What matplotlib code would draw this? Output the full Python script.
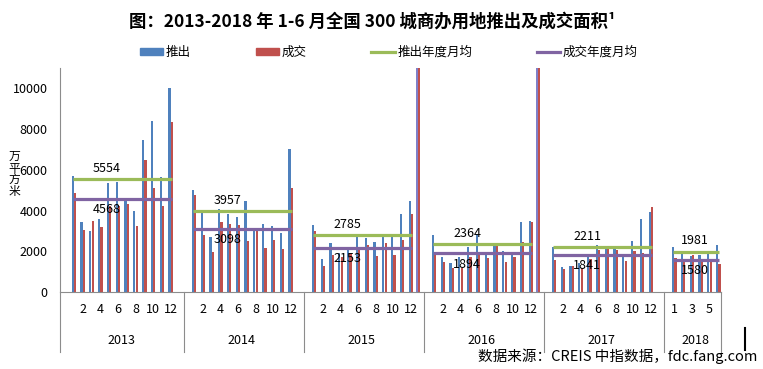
import numpy as np
import matplotlib.pyplot as plt
import matplotlib.transforms as mtransforms
from matplotlib.lines import Line2D
from matplotlib.patches import Patch

plt.rcParams['font.family'] = ['Noto Sans CJK SC', 'DejaVu Sans']

years = ['2013', '2014', '2015', '2016', '2017', '2018']

# 推出 (万平方米), Jan..Dec, 2018 only Jan..Jun
supply = [
    [5714, 3433, 3020, 3596, 5353, 5402, 4450, 3990, 7488, 8391, 5648, 10033],
    [4991, 3907, 2694, 4089, 3826, 3662, 4450, 3090, 3334, 3218, 2890, 7028],
    [3300, 1626, 2397, 1905, 2118, 2726, 2643, 2479, 2726, 2775, 3842, 4450],
    [2808, 1708, 1445, 1741, 2200, 2850, 1823, 2315, 2036, 1823, 3415, 3465],
    [2233, 1215, 1281, 1445, 1823, 2315, 2151, 2266, 1741, 2528, 3580, 3907],
    [2233, 1900, 1757, 1800, 2000, 2315],
]
# 成交
deal = [
    [4862, 3039, 3463, 3187, 4200, 4236, 4335, 3251, 6502, 5107, 4203, 8342],
    [4778, 2808, 1987, 3432, 3334, 3268, 2528, 3050, 2184, 2562, 2118, 5107],
    [2972, 1281, 1823, 1700, 1872, 2151, 2300, 1773, 2430, 1800, 2562, 3842],
    [1905, 1494, 1166, 1166, 1741, 1823, 1658, 2315, 1494, 1741, 2479, 3433],
    [1576, 1117, 1281, 1166, 1600, 2069, 2151, 2069, 1527, 2036, 1900, 4154],
    [1658, 1600, 1823, 1510, 1576, 1379],
]
supply_avg = [5554, 3957, 2785, 2364, 2211, 1981]
deal_avg = [4568, 3098, 2153, 1894, 1841, 1580]

# off-scale pair drawn right after December (runs past the top of the axis)
spike_years = ['2015', '2016']
spike_supply = [12000, 12000]
spike_deal = [12000, 12000]

month_labels = [['2', '4', '6', '8', '10', '12']] * 5 + [['1', '3', '5']]

c_blue, c_red = '#4F81BD', '#C0504D'
c_green, c_purple = '#9BBB59', '#8064A2'
c_axis = '#8C8C8C'

fig = plt.figure(figsize=(7.63, 3.69), dpi=100)
ax = fig.add_axes([60 / 763, 1 - 292 / 369, 661 / 763, 224 / 369])

gap = 2.65
bw = 0.25
off = 0.27
starts = []
x0 = 0.0
for s in supply:
    starts.append(x0)
    x0 += len(s) - 1 + gap

trans = mtransforms.blended_transform_factory(ax.transData, ax.transAxes)

for i, yr in enumerate(years):
    xs = starts[i] + np.arange(len(supply[i]))
    ax.bar(xs, supply[i], width=bw, color=c_blue, zorder=2)
    ax.bar(xs + off, deal[i], width=bw, color=c_red, zorder=2)
    if yr in spike_years:
        k = spike_years.index(yr)
        xe = xs[-1] + 0.8
        ax.bar([xe], [spike_supply[k]], width=bw, color='#7F7FC8', zorder=2)
        ax.bar([xe + off], [spike_deal[k]], width=bw, color=c_red, zorder=2)

    x1, x2 = xs[0], xs[-1] + off
    ax.plot([x1, x2], [supply_avg[i]] * 2, color=c_green, lw=2.3,
            solid_capstyle='butt', zorder=3)
    ax.plot([x1, x2], [deal_avg[i]] * 2, color=c_purple, lw=2.3,
            solid_capstyle='butt', zorder=3)

    lx = xs[0] + min(3.9, (len(xs) - 1) / 2)
    ax.annotate(str(supply_avg[i]), (lx, supply_avg[i]), xytext=(0, 3),
                textcoords='offset points', ha='center', va='bottom',
                fontsize=9, zorder=4)
    ax.annotate(str(deal_avg[i]), (lx, deal_avg[i]), xytext=(0, -3),
                textcoords='offset points', ha='center', va='top',
                fontsize=9, zorder=4)

    # month and year labels under the axis
    for lab in month_labels[i]:
        m = int(lab) - 1
        ax.text(xs[m] + 0.13, -0.08, lab, transform=trans, ha='center',
                va='center', fontsize=9)
    ax.text((xs[0] + xs[-1]) / 2, -0.215, yr, transform=trans, ha='center',
            va='center', fontsize=9)

xmin, xmax = -1.45, x0 - gap + 0.45
ax.set_xlim(xmin, xmax)
ax.set_ylim(0, 11000)

# separators of the category table
seps = [xmin, xmax]
for i in range(1, len(years)):
    end_prev = starts[i - 1] + len(supply[i - 1]) - 1 + off
    seps.append((end_prev + starts[i]) / 2 + 0.2)
for sx in seps:
    ax.plot([sx, sx], [0, -0.268], transform=trans, color=c_axis, lw=0.8,
            clip_on=False)

ax.set_yticks(np.arange(0, 10001, 2000))
ax.tick_params(axis='y', length=0, pad=9, labelsize=9)
ax.set_xticks([])
for sp in ['top', 'right']:
    ax.spines[sp].set_visible(False)
for sp in ['left', 'bottom']:
    ax.spines[sp].set_color(c_axis)
    ax.spines[sp].set_linewidth(0.8)

fig.text(14 / 763, 1 - 174 / 369, '万\n平\n方\n米', ha='center', va='center',
         fontsize=8.5, linespacing=0.85)

fig.text(372 / 763, 1 - 22 / 369,
         '图：2013-2018 年 1-6 月全国 300 城商办用地推出及成交面积¹',
         ha='center', va='center', fontsize=12.5, fontweight='bold')

handles = [Patch(color=c_blue), Patch(color=c_red),
           Line2D([], [], color=c_green, lw=2.3),
           Line2D([], [], color=c_purple, lw=2.3)]
fig.legend(handles, ['推出', '成交', '推出年度月均', '成交年度月均'],
           loc='center', bbox_to_anchor=(389 / 763, 1 - 52 / 369), ncol=4,
           frameon=False, fontsize=9, columnspacing=5.2, handlelength=1.85,
           handletextpad=0.2, handleheight=0.5)

fig.text(757 / 763, 1 - 356 / 369, '数据来源：CREIS 中指数据，fdc.fang.com',
         ha='right', va='center', fontsize=10.5)
fig.add_artist(Line2D([745 / 763, 745 / 763], [1 - 328 / 369, 1 - 350 / 369],
                      color='black', lw=1.5))

fig.savefig('out.png', dpi=100)
